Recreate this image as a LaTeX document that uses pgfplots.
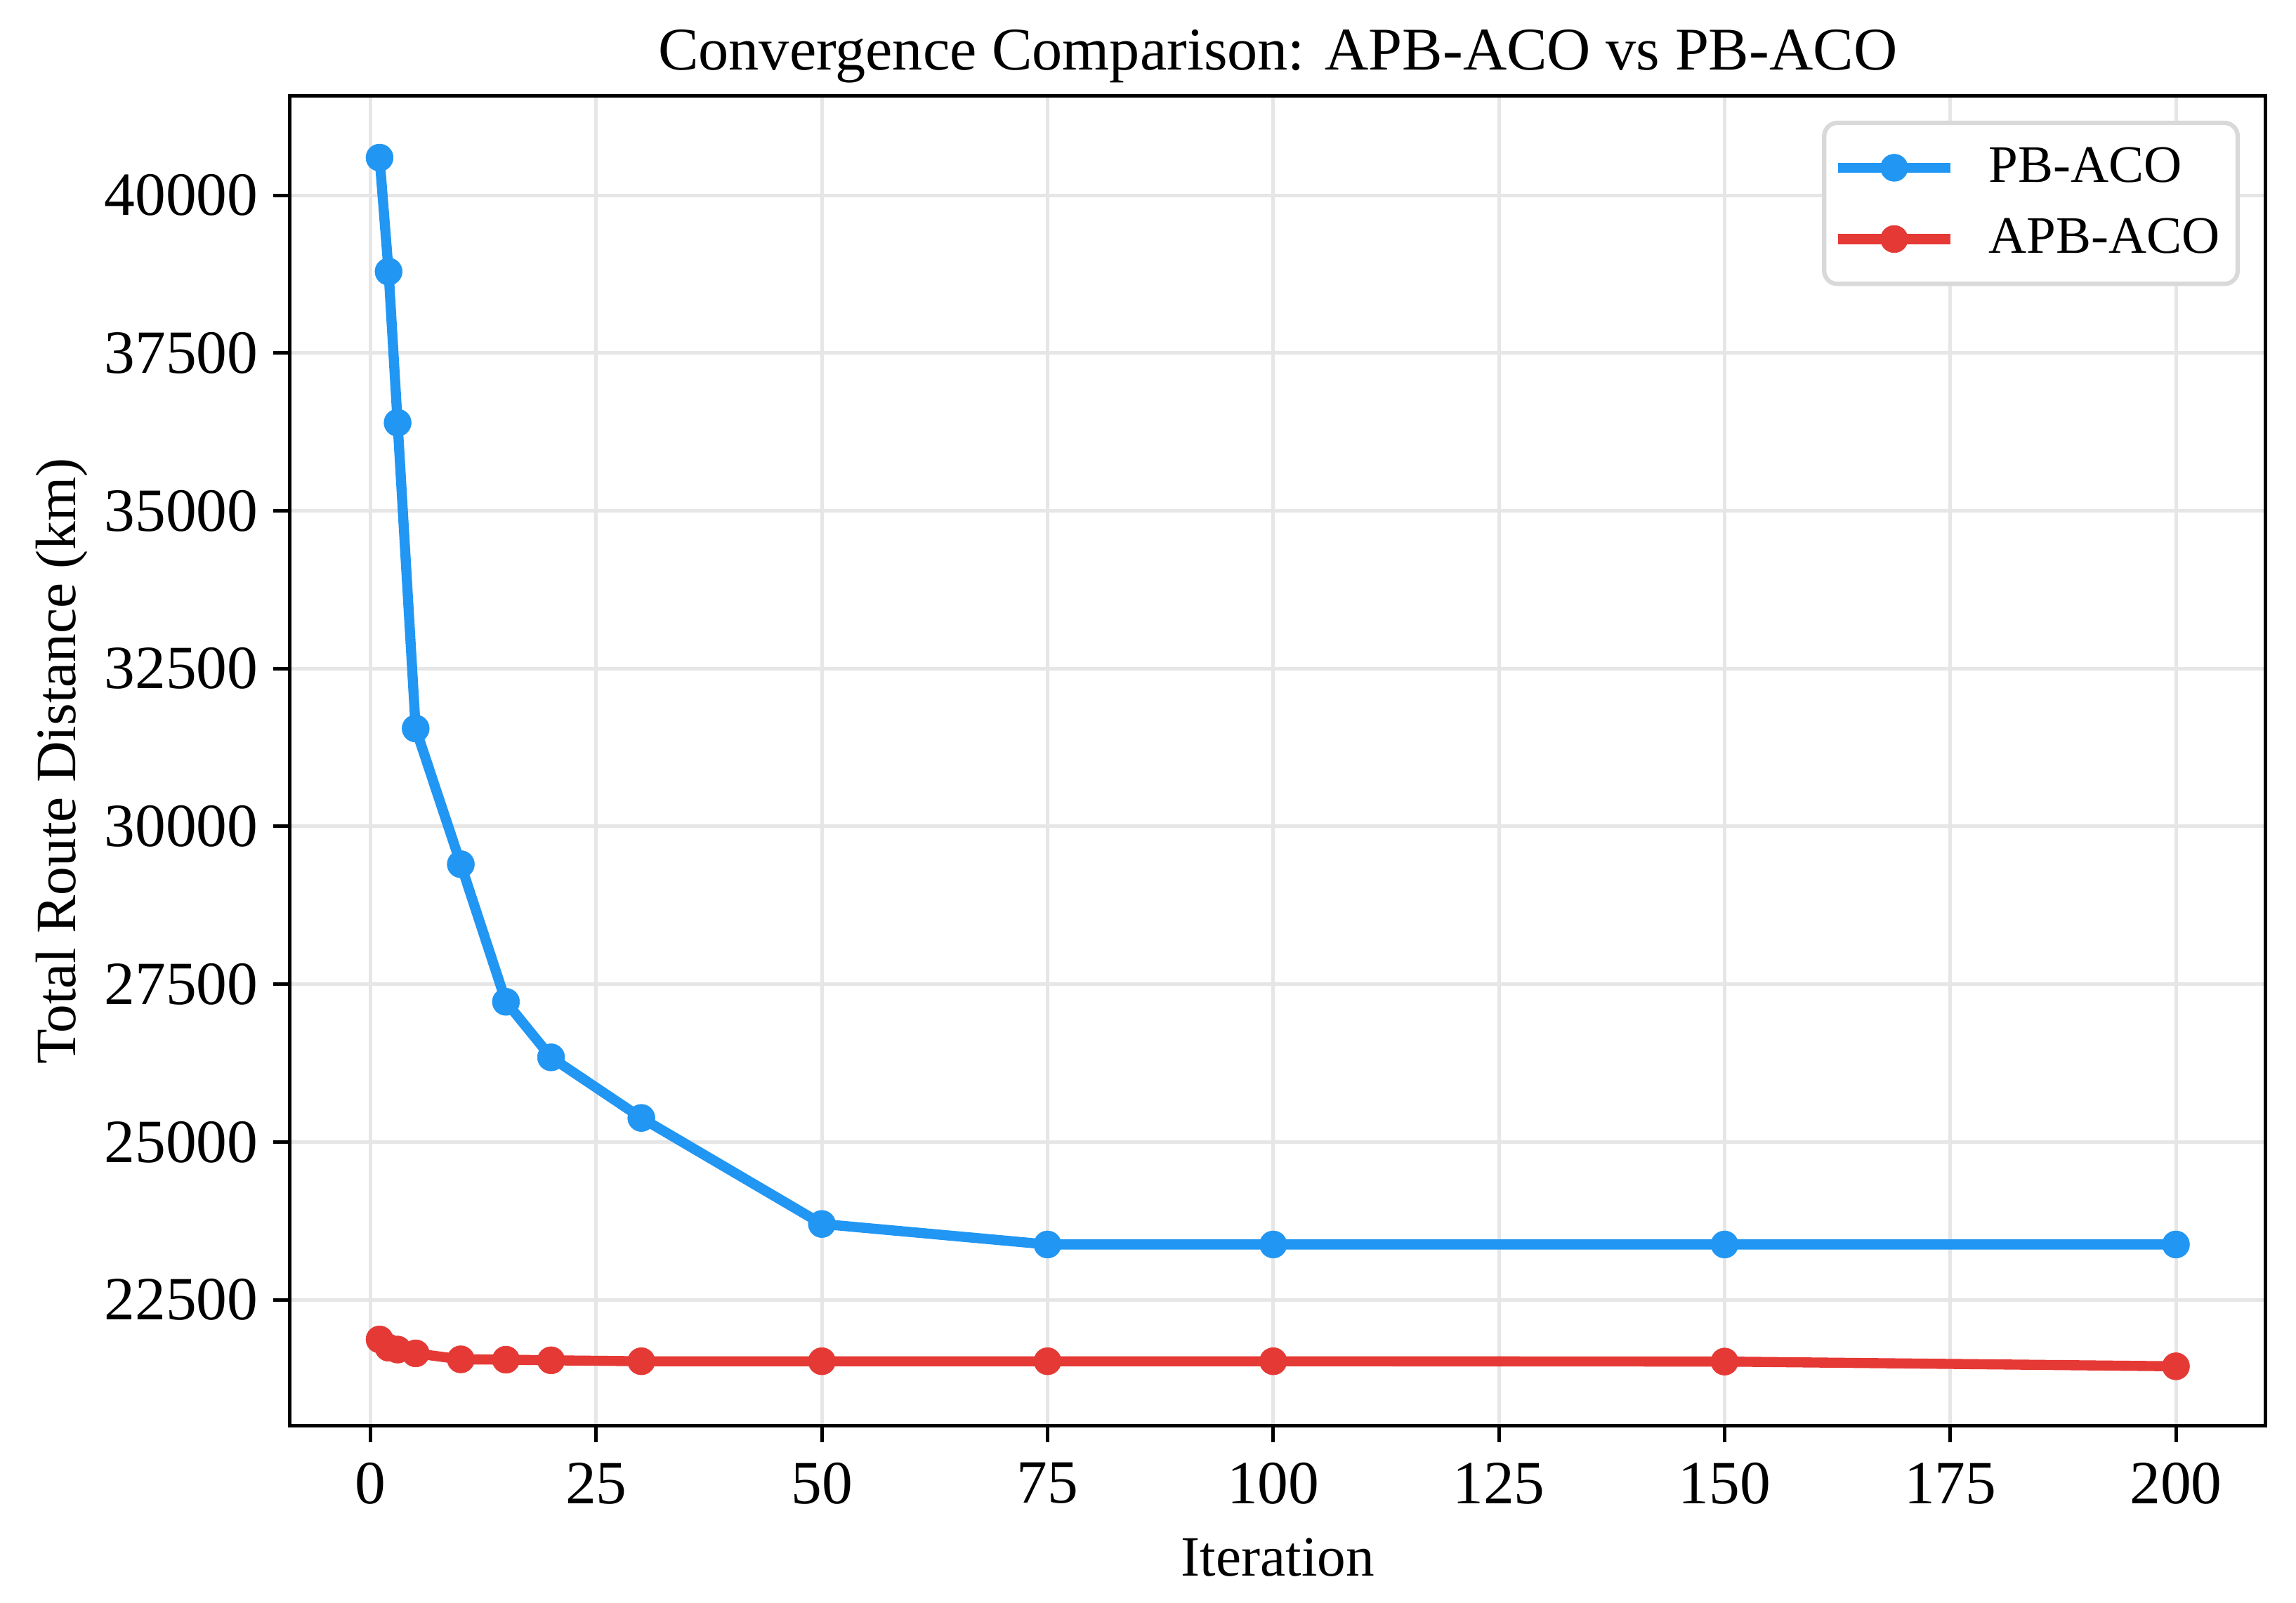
\documentclass[border=0pt]{standalone}
\usepackage{fontspec}
\setmainfont{Liberation Serif}
\usepackage{pgfplots}
\pgfplotsset{compat=1.18}
\definecolor{pbblue}{RGB}{33,150,243}
\definecolor{apbred}{RGB}{229,57,53}
\definecolor{gridc}{RGB}{230,230,230}
\definecolor{legc}{RGB}{217,217,217}
\begin{document}
\begin{tikzpicture}
\begin{axis}[
  scale only axis, width=450.1pt, height=303pt,
  xmin=-8.95, xmax=209.95, ymin=20500, ymax=41570,
  xtick={0,25,...,200}, ytick={22500,25000,...,40000},
  scaled ticks=false,
  /pgf/number format/assume math mode=true,
  /pgf/number format/1000 sep={},
  tick pos=left, tick align=outside, major tick length=3.7pt,
  tick style={black, line width=0.8pt},
  axis line style={line width=0.8pt},
  grid=major, grid style={gridc, line width=0.8pt},
  ticklabel style={font=\fontsize{14}{16}\selectfont},
  xticklabel style={yshift=-1.2pt}, yticklabel style={xshift=0pt},
  title={Convergence Comparison: APB-ACO vs PB-ACO},
  title style={font=\fontsize{13.8}{16}\selectfont, at={(axis description cs:0.5,1)}, anchor=base, yshift=0pt},
  xlabel={Iteration},
  xlabel style={font=\fontsize{13}{15}\selectfont, at={(axis description cs:0.5,-0.1127)}, anchor=base},
  ylabel={Total Route Distance (km)},
  ylabel style={font=\fontsize{13}{15}\selectfont, at={(axis description cs:-0.1155,0.5)}, anchor=center},
  legend style={at={(rel axis cs:1,1)}, anchor=north east, xshift=-5.9pt, yshift=-5.6pt,
    draw=legc, line width=1pt, rounded corners=3pt, fill=white,
    font=\fontsize{12}{14}\selectfont, inner xsep=2pt, inner ysep=3.5pt, row sep=2.8pt, column sep=5.6pt,
    cells={anchor=west}},
  legend cell align=left,
  legend image code/.code={\draw[mark repeat=2,mark phase=2] plot coordinates {(0pt,0pt)(12.8pt,0pt)(25.6pt,0pt)};},
]
\addplot[pbblue, line width=2.3pt, mark=*, mark size=3.1pt, mark options={solid, line width=0.1pt}] coordinates {
(1,40595)(2,38790)(3,36395)(5,31550)(10,29400)(15,27220)(20,26340)(30,25380)(50,23700)(75,23375)(100,23375)(150,23375)(200,23375)};
\addlegendentry{PB-ACO}
\addplot[apbred, line width=2.3pt, mark=*, mark size=3.1pt, mark options={solid, line width=0.1pt}] coordinates {
(1,21870)(2,21740)(3,21710)(5,21650)(10,21555)(15,21550)(20,21540)(30,21525)(50,21525)(75,21525)(100,21525)(150,21520)(200,21445)};
\addlegendentry{APB-ACO}
\coordinate (sw) at (rel axis cs:0,0);
\coordinate (ne) at (rel axis cs:1,1);
\end{axis}
\pgfresetboundingbox
\path ([shift={(-66pt,-40.3pt)}]sw) rectangle ([shift={(6.9pt,21.9pt)}]ne);
\end{tikzpicture}
\end{document}
